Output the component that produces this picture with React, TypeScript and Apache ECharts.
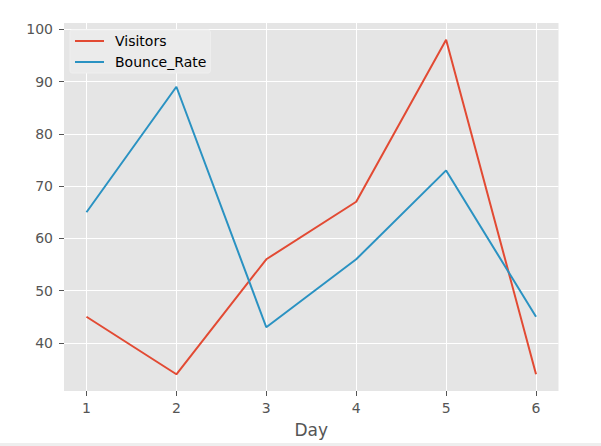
import React, { useEffect, useRef } from "react";
import * as echarts from "echarts";

const days = [1, 2, 3, 4, 5, 6];
const visitors = [45, 34, 56, 67, 98, 34];
const bounceRate = [65, 89, 43, 56, 73, 45];
const xTicks = [1, 2, 3, 4, 5, 6];
const yTicks = [40, 50, 60, 70, 80, 90, 100];

export default function App() {
  const ref = useRef<HTMLDivElement>(null);
  useEffect(() => {
    if (!ref.current) return;
    const chart = echarts.init(ref.current, undefined, { renderer: "svg" });
    const font = "DejaVu Sans";
    chart.setOption({
      animation: false,
      backgroundColor: "#ffffff",
      textStyle: { fontFamily: font },
      grid: {
        left: 64,
        right: 42.5,
        top: 23,
        bottom: 55,
        show: true,
        backgroundColor: "#E5E5E5",
        borderWidth: 0,
      },
      legend: {
        orient: "vertical",
        left: 70,
        top: 30,
        padding: [4, 4, 4, 5],
        itemGap: 7,
        itemWidth: 29,
        itemHeight: 2,
        icon: "rect",
        backgroundColor: "#ebebeb",
        borderColor: "#efefef",
        borderWidth: 1,
        borderRadius: 2,
        textStyle: { fontFamily: font, fontSize: 14, color: "#000000", lineHeight: 14, padding: [0, 0, 0, 6] },
        data: ["Visitors", "Bounce_Rate"],
      },
      xAxis: {
        type: "value",
        min: 0.75,
        max: 6.25,
        name: "Day",
        nameLocation: "middle",
        nameGap: 30,
        nameTextStyle: { fontFamily: font, fontSize: 17, color: "#555555" },
        axisLine: { show: false },
        axisTick: { show: true, length: 5, customValues: xTicks, lineStyle: { color: "#555555", width: 1 } },
        axisLabel: { customValues: xTicks, margin: 10, fontFamily: font, fontSize: 14, color: "#555555" },
        splitLine: { show: true, lineStyle: { color: "#ffffff", width: 1 } },
      },
      yAxis: {
        type: "value",
        min: 30.8,
        max: 101.2,
        axisLine: { show: false },
        axisTick: { show: true, length: 5, customValues: yTicks, lineStyle: { color: "#555555", width: 1 } },
        axisLabel: { customValues: yTicks, margin: 11, fontFamily: font, fontSize: 14, color: "#555555" },
        splitLine: { show: true, lineStyle: { color: "#ffffff", width: 1 } },
      },
      graphic: [
        { type: "rect", left: 0, top: 443, shape: { width: 601, height: 3 }, style: { fill: "#eeeeee" }, silent: true },
      ],
      series: [
        {
          name: "Visitors",
          type: "line",
          data: days.map((d, i) => [d, visitors[i]]),
          showSymbol: false,
          lineStyle: { color: "#E24A33", width: 2 },
          itemStyle: { color: "#E24A33" },
        },
        {
          name: "Bounce_Rate",
          type: "line",
          data: days.map((d, i) => [d, bounceRate[i]]),
          showSymbol: false,
          lineStyle: { color: "#2A92C2", width: 2 },
          itemStyle: { color: "#2A92C2" },
        },
      ],
    });
    return () => chart.dispose();
  }, []);
  return <div ref={ref} style={{ position: "absolute", left: 0, top: 0, width: 601, height: 446 }} />;
}
